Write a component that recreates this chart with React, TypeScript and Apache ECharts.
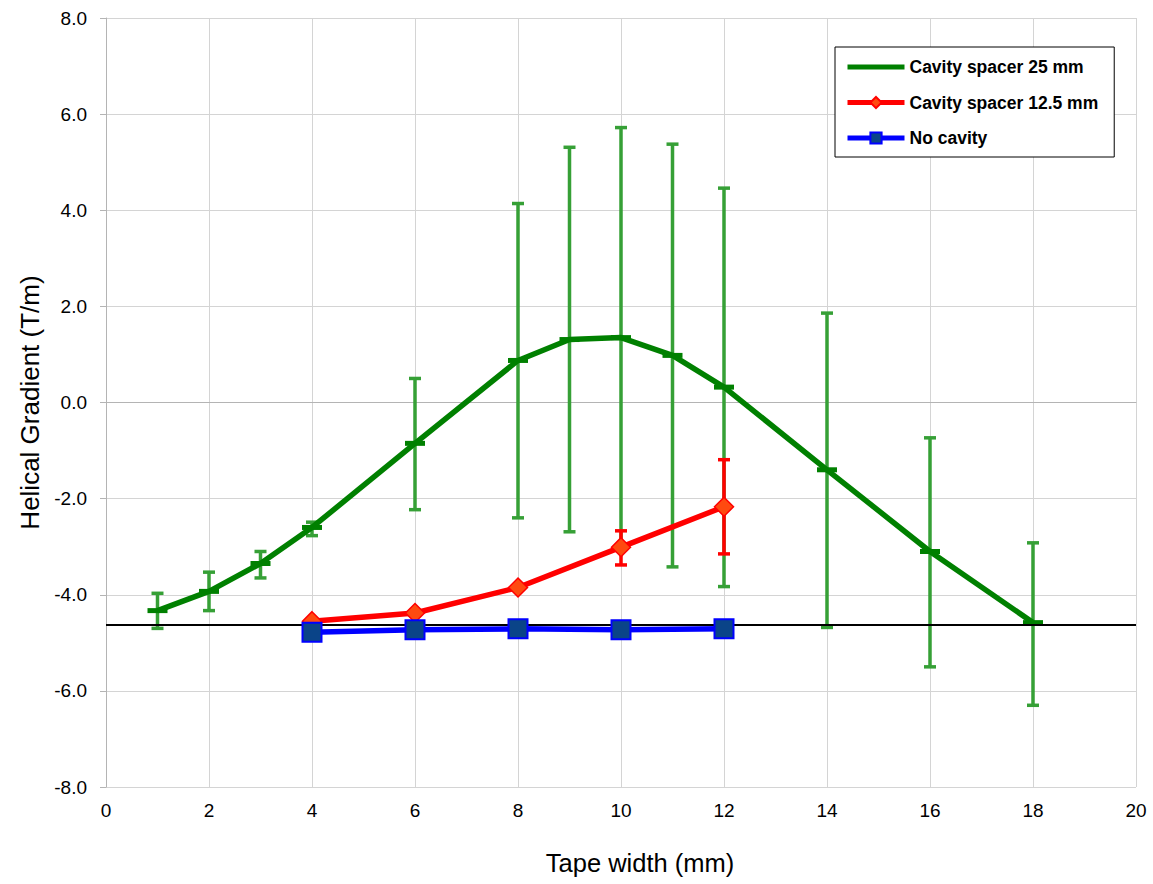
import React, { useEffect, useRef } from "react";
import * as echarts from "echarts";

// Tape widths (mm) and helical gradient (T/m) per configuration
const xSpacer25 = [1, 2, 3, 4, 6, 8, 9, 10, 11, 12, 14, 16, 18];
const ySpacer25 = [-4.33, -3.93, -3.35, -2.6, -0.85, 0.875, 1.31, 1.35, 0.98, 0.32, -1.4, -3.1, -4.58];
const hiSpacer25 = [-3.97, -3.53, -3.1, -2.49, 0.5, 4.14, 5.31, 5.72, 5.375, 4.46, 1.86, -0.735, -2.92];
const loSpacer25 = [-4.7, -4.33, -3.65, -2.77, -2.23, -2.4, -2.69, -3.02, -3.42, -3.83, -4.68, -5.5, -6.3];

const xSpacer125 = [4, 6, 8, 10, 12];
const ySpacer125 = [-4.55, -4.38, -3.85, -3.01, -2.17];
const hiSpacer125 = [null, null, null, -2.67, -1.19];
const loSpacer125 = [null, null, null, -3.38, -3.15];

const xNoCavity = [4, 6, 8, 10, 12];
const yNoCavity = [-4.78, -4.73, -4.71, -4.73, -4.71];

const referenceLevel = -4.62;

const xTicks = [0, 2, 4, 6, 8, 10, 12, 14, 16, 18, 20];
const yTicks = [-8, -6, -4, -2, 0, 2, 4, 6, 8];

const NAME_25 = "Cavity spacer 25 mm";
const NAME_125 = "Cavity spacer 12.5 mm";
const NAME_NONE = "No cavity";

const FONT = "Arial, 'Liberation Sans', sans-serif";

function errorBarRenderer(color: string, capHalf: number, width: number, pointMark: boolean) {
  return (params: any, api: any) => {
    const x = api.value(0);
    const y = api.value(1);
    const hi = api.value(2);
    const lo = api.value(3);
    const children: any[] = [];
    const style = { stroke: color, lineWidth: width };
    if (!isNaN(hi) && !isNaN(lo) && hi !== null && lo !== null) {
      const top = api.coord([x, hi]);
      const bot = api.coord([x, lo]);
      children.push(
        { type: "line", shape: { x1: top[0], y1: top[1], x2: bot[0], y2: bot[1] }, style },
        { type: "line", shape: { x1: top[0] - capHalf, y1: top[1], x2: top[0] + capHalf, y2: top[1] }, style },
        { type: "line", shape: { x1: bot[0] - capHalf, y1: bot[1], x2: bot[0] + capHalf, y2: bot[1] }, style }
      );
    }
    if (pointMark) {
      const p = api.coord([x, y]);
      children.push({
        type: "rect",
        shape: { x: p[0] - 10, y: p[1] - 2.5, width: 20, height: 5 },
        style: { fill: "#008000" },
      });
    }
    return { type: "group", children };
  };
}

export default function App() {
  const ref = useRef<HTMLDivElement>(null);

  useEffect(() => {
    if (!ref.current) return;
    const chart = echarts.init(ref.current, null, { renderer: "svg" });

    const err25 = xSpacer25.map((x, i) => [x, ySpacer25[i], hiSpacer25[i], loSpacer25[i]]);
    const err125 = xSpacer125
      .map((x, i) => [x, ySpacer125[i], hiSpacer125[i], loSpacer125[i]])
      .filter((d) => d[2] !== null);

    chart.setOption({
      animation: false,
      backgroundColor: "#ffffff",
      grid: { left: 106, top: 18, right: 17, bottom: 97, containLabel: false },
      legend: {
        orient: "vertical",
        left: 835,
        top: 47,
        padding: [11, 16, 10, 10],
        itemWidth: 57,
        itemHeight: 14,
        itemGap: 17.5,
        borderColor: "#000000",
        borderWidth: 1,
        backgroundColor: "#ffffff",
        textStyle: { fontFamily: FONT, fontSize: 17.5, fontWeight: "bold", color: "#000000" },
        data: [
          { name: NAME_25, icon: "path://M0,0 H57 V5 H0 Z", itemStyle: { color: "#008000" } },
          { name: NAME_125, lineStyle: { width: 5, color: "#ff0000" } },
          { name: NAME_NONE, lineStyle: { width: 5, color: "#0000ff" } },
        ],
      },
      xAxis: {
        type: "value",
        min: xTicks[0],
        max: xTicks[xTicks.length - 1],
        interval: 2,
        name: "Tape width (mm)",
        nameLocation: "middle",
        nameGap: 63,
        nameTextStyle: { fontFamily: FONT, fontSize: 25.5, color: "#000000", padding: [0, 0, 0, 38] },
        axisLine: { lineStyle: { color: "#b4b4b4", width: 1 } },
        axisTick: { show: false },
        axisLabel: { fontFamily: FONT, fontSize: 19, color: "#000000", margin: 14 },
        splitLine: { show: true, lineStyle: { color: "#d4d4d4", width: 1 } },
      },
      yAxis: {
        type: "value",
        min: yTicks[0],
        max: yTicks[yTicks.length - 1],
        interval: 2,
        name: "Helical Gradient (T/m)",
        nameLocation: "middle",
        nameGap: 62,
        nameTextStyle: { fontFamily: FONT, fontSize: 26, color: "#000000" },
        axisLine: { show: true, lineStyle: { color: "#b4b4b4", width: 1 } },
        axisTick: { show: true, length: 6, lineStyle: { color: "#b4b4b4" } },
        axisLabel: {
          fontFamily: FONT,
          fontSize: 19,
          color: "#000000",
          margin: 19,
          formatter: (v: number) => v.toFixed(1),
        },
        splitLine: { show: true, lineStyle: { color: "#d4d4d4", width: 1 } },
      },
      series: [
        {
          name: "err25",
          type: "custom",
          z: 2,
          renderItem: errorBarRenderer("#36a036", 6, 3.5, false),
          encode: { x: 0, y: 1 },
          data: err25,
          silent: true,
        },
        {
          name: NAME_25,
          type: "line",
          z: 3,
          data: xSpacer25.map((x, i) => [x, ySpacer25[i]]),
          symbol: "none",
          lineStyle: { color: "#008000", width: 5.5 },
          itemStyle: { color: "#008000" },
        },
        {
          name: "mark25",
          type: "custom",
          z: 4,
          renderItem: errorBarRenderer("#008000", 0, 0, true),
          encode: { x: 0, y: 1 },
          data: xSpacer25.map((x, i) => [x, ySpacer25[i], null, null]),
          silent: true,
        },
        {
          name: "err125",
          type: "custom",
          z: 5,
          renderItem: errorBarRenderer("#ff0000", 6, 3.5, false),
          encode: { x: 0, y: 1 },
          data: err125,
          silent: true,
        },
        {
          name: NAME_125,
          type: "line",
          z: 6,
          data: xSpacer125.map((x, i) => [x, ySpacer125[i]]),
          symbol: "diamond",
          symbolSize: 19,
          lineStyle: { color: "#ff0000", width: 5.5 },
          itemStyle: { color: "#ff4a10", borderColor: "#ff0000", borderWidth: 1.5 },
        },
        {
          name: "reference",
          type: "line",
          z: 7,
          data: [],
          markLine: {
            silent: true,
            symbol: ["none", "none"],
            label: { show: false },
            lineStyle: { color: "#000000", width: 2, type: "solid" },
            data: [{ yAxis: referenceLevel }],
          },
        },
        {
          name: NAME_NONE,
          type: "line",
          z: 8,
          data: xNoCavity.map((x, i) => [x, yNoCavity[i]]),
          symbol: "rect",
          symbolSize: 19,
          lineStyle: { color: "#0000ff", width: 5.5 },
          itemStyle: { color: "#0a4488", borderColor: "#0000ff", borderWidth: 2 },
        },
      ],
    });

    return () => chart.dispose();
  }, []);

  return (
    <div
      ref={ref}
      style={{ position: "fixed", left: 0, top: 0, width: 1153, height: 884 }}
    />
  );
}
